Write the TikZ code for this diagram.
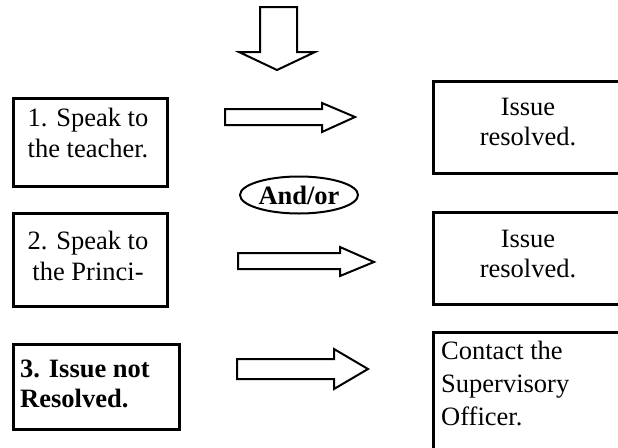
\documentclass[tikz,border=0pt]{standalone}
\usepackage{fontspec}
\setmainfont{Liberation Serif}
\usetikzlibrary{shapes.geometric}
\begin{document}
\begin{tikzpicture}[x=1pt,y=-1pt,
  box/.style={draw,line width=2.5pt,rectangle,anchor=north west,inner sep=0pt},
  txt/.style={font=\fontsize{26.5}{30.5}\selectfont,inner sep=0pt,align=center},
  blockarrow/.style={draw,line width=2pt,fill=white,line join=miter}]
\useasboundingbox (0,0) rectangle (618,447);
\clip (0,0) rectangle (618,447);
% boxes
\node[box,minimum width=154pt,minimum height=88pt] (b1) at (12,97) {};
\node[box,minimum width=154pt,minimum height=93pt] (b2) at (12,212) {};
\node[box,minimum width=166pt,minimum height=85pt] (b3) at (12,343) {};
\node[box,minimum width=198pt,minimum height=92pt] (r1) at (432,80) {};
\node[box,minimum width=198pt,minimum height=92pt] (r2) at (432,211) {};
\node[box,minimum width=198pt,minimum height=129pt] (r3) at (432,331) {};
% texts
\node[txt] (t1) at (88,133) {1. Speak to\\the teacher.};
\node[txt] (t2) at (88,256) {2. Speak to\\the Princi-};
\node[txt,align=left,anchor=west,font=\bfseries\fontsize{26.5}{30.5}\selectfont] (t3) at (20,384) {3. Issue not\\Resolved.};
\node[txt] (tr1) at (528,122) {Issue\\resolved.};
\node[txt] (tr2) at (528,254) {Issue\\resolved.};
\node[txt,align=left,anchor=west,font=\fontsize{26.5}{33}\selectfont] (tr3) at (441,383) {Contact the\\Supervisory\\Officer.};
% and/or
\node[ellipse,draw,line width=2pt,minimum width=118pt,minimum height=37pt,inner sep=0pt,
  font=\bfseries\fontsize{26.5}{30}\selectfont] (andor) at (299,195) {And/or};
% block arrows
\draw[blockarrow] (260,7) -- (297,7) -- (297,52) -- (315,52) -- (277,70) -- (239,52) -- (260,52) -- cycle;
\draw[blockarrow] (225,109) -- (322,109) -- (322,103) -- (355,117) -- (322,132) -- (322,125) -- (225,125) -- cycle;
\draw[blockarrow] (238,253) -- (340,253) -- (340,247) -- (374,262) -- (340,276) -- (340,269) -- (238,269) -- cycle;
\draw[blockarrow] (237,359) -- (334,359) -- (334,349) -- (368,369) -- (334,389) -- (334,379) -- (237,379) -- cycle;
\end{tikzpicture}
\end{document}
